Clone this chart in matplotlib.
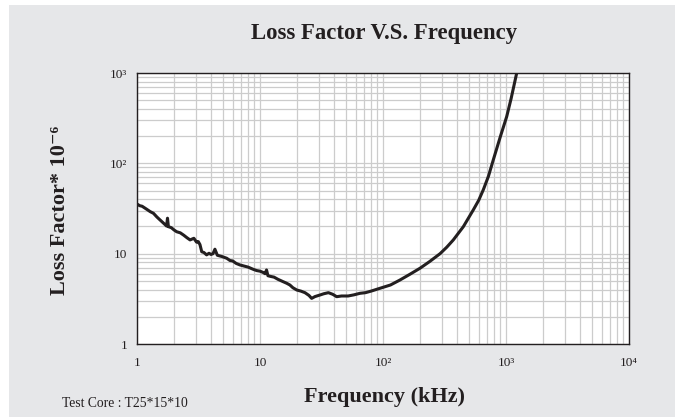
import matplotlib
matplotlib.use("Agg")
import matplotlib.pyplot as plt
from matplotlib.patches import Rectangle
from matplotlib.ticker import LogLocator, NullFormatter

# frequency (kHz) and loss factor (x 10^-6)
freq = [1.0, 1.05, 1.1, 1.2, 1.28, 1.36, 1.45, 1.52, 1.6, 1.69, 1.74, 1.77, 1.8,
        1.9, 2.0, 2.1, 2.25, 2.4, 2.55, 2.7, 2.9, 3.05, 3.15, 3.25, 3.36, 3.5,
        3.68, 3.85, 4.0, 4.15, 4.3, 4.5, 4.9, 5.36, 5.7, 6.0, 6.4, 6.87, 7.4,
        8.0, 8.83, 9.4, 10.0, 10.6, 11.0, 11.3, 11.6, 12.2, 13.0, 14.0, 15.4,
        16.5, 17.5, 18.5, 19.9, 21.5, 23.2, 25.0, 26.3, 28.0, 30.8, 33.0, 36.0,
        39.0, 42.0, 46.0, 52.0, 58.0, 65.0, 72.0, 80.0, 94.6, 115, 137, 165, 200,
        240, 291, 330, 373, 450, 542, 600, 654, 720, 788, 900, 1013, 1100, 1222]
loss = [35.5, 34.0, 33.5, 31.0, 29.2, 28.0, 25.5, 24.0, 22.5, 21.0, 20.2, 24.7,
        19.9, 19.4, 18.3, 17.5, 17.0, 16.0, 15.0, 14.2, 14.8, 13.4, 13.6, 12.6,
        10.5, 10.3, 9.7, 10.1, 9.8, 10.0, 11.2, 9.6, 9.3, 8.9, 8.4, 8.3, 7.8,
        7.5, 7.3, 7.1, 6.7, 6.5, 6.4, 6.2, 6.0, 6.6, 5.7, 5.6, 5.5, 5.2, 4.9,
        4.7, 4.5, 4.2, 3.96, 3.85, 3.7, 3.45, 3.2, 3.35, 3.49, 3.6, 3.7, 3.55,
        3.34, 3.4, 3.4, 3.5, 3.64, 3.7, 3.85, 4.14, 4.5, 5.1, 5.9, 6.9, 8.2,
        10.0, 11.8, 14.2, 19.9, 30.5, 39.0, 51.0, 72.0, 109, 198, 329, 520, 1000]

xticks = [1, 10, 100, 1000, 10000]
xlabels = ["1", "10", "10²", "10³", "10⁴"]
yticks = [1, 10, 100, 1000]
ylabels = ["1", "10", "10²", "10³"]

plt.rcParams['font.family'] = ['Liberation Serif', 'DejaVu Serif']

fig = plt.figure(figsize=(6.78, 4.19), dpi=100)
fig.patch.set_facecolor('white')
fig.patches.append(Rectangle((9 / 678, 1 - 417 / 419), 666 / 678, 412 / 419,
                             transform=fig.transFigure, facecolor='#e6e7e9',
                             edgecolor='none', zorder=-10))

ax = fig.add_axes([137 / 678, 75 / 419, 492 / 678, 271 / 419])
ax.set_facecolor('white')
ax.plot(freq, loss, color='#231f20', lw=2.2, solid_joinstyle='round')
ax.set_xscale('log')
ax.set_yscale('log')
ax.set_xlim(1, 10000)
ax.set_ylim(1, 1000)

ax.xaxis.set_minor_locator(LogLocator(base=10, subs=range(2, 10)))
ax.yaxis.set_minor_locator(LogLocator(base=10, subs=range(2, 10)))
ax.xaxis.set_minor_formatter(NullFormatter())
ax.yaxis.set_minor_formatter(NullFormatter())
ax.grid(which='both', color='#cccccc', lw=0.9)
ax.set_axisbelow(True)

ax.set_xticks(xticks)
ax.set_xticklabels(xlabels, fontsize=9.5)
ax.set_yticks(yticks)
ax.set_yticklabels(ylabels, fontsize=9.5)
ax.tick_params(axis='x', which='both', length=0, pad=9, colors='#231f20')
ax.tick_params(axis='y', which='both', length=0, pad=7, colors='#231f20')
for s in ax.spines.values():
    s.set_color('#231f20')
    s.set_linewidth(1.0)

fig.text(384 / 678, 1 - 39 / 419, "Loss Factor V.S. Frequency", ha='center',
         va='baseline', fontsize=16.4, fontweight='bold', color='#231f20')
fig.text(384 / 678, 1 - 402 / 419, "Frequency (kHz)", ha='center', va='baseline',
         fontsize=16, fontweight='bold', color='#231f20')
fig.text(60 / 678, 1 - 210 / 419, "Loss Factor* 10⁻⁶", ha='center',
         va='center', rotation=90, fontsize=16, fontweight='bold', color='#231f20')
fig.text(62 / 678, 1 - 407 / 419, "Test Core : T25*15*10", ha='left', va='baseline',
         fontsize=9.8, color='#231f20')

fig.savefig("out.png", dpi=100, facecolor=fig.get_facecolor())
